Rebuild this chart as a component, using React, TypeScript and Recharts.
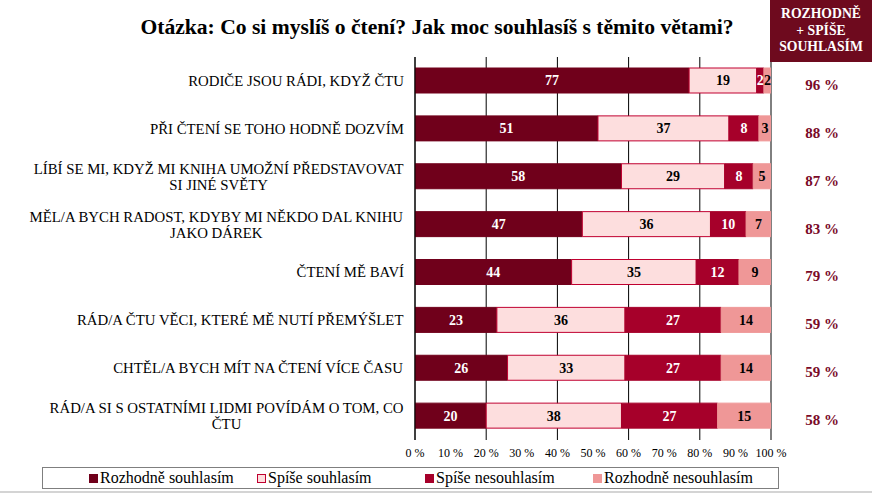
import React from 'react';
import { BarChart, Bar, XAxis, YAxis, CartesianGrid, LabelList } from 'recharts';

const categories = [
  'RODIČE JSOU RÁDI, KDYŽ ČTU',
  'PŘI ČTENÍ SE TOHO HODNĚ DOZVÍM',
  'LÍBÍ SE MI, KDYŽ MI KNIHA UMOŽNÍ PŘEDSTAVOVAT\nSI JINÉ SVĚTY',
  'MĚL/A BYCH RADOST, KDYBY MI NĚKDO DAL KNIHU\nJAKO DÁREK',
  'ČTENÍ MĚ BAVÍ',
  'RÁD/A ČTU VĚCI, KTERÉ MĚ NUTÍ PŘEMÝŠLET',
  'CHTĚL/A BYCH MÍT NA ČTENÍ VÍCE ČASU',
  'RÁD/A SI S OSTATNÍMI LIDMI POVÍDÁM O TOM, CO\nČTU',
];

const rozhodneSouhlasim = [77, 51.4, 58, 47, 44, 23, 26, 20];
const spiseSouhlasim = [19, 36.8, 29, 36, 35, 36, 33, 38];
const spiseNesouhlasim = [2, 8.4, 8, 10, 12, 27, 27, 27];
const rozhodneNesouhlasim = [2, 3.4, 5, 7, 9, 14, 14, 15];

const xTicks = [0, 10, 20, 30, 40, 50, 60, 70, 80, 90, 100];

const title = 'Otázka: Co si myslíš o čtení? Jak moc souhlasíš s těmito větami?';
const headerLines = ['ROZHODNĚ', '+ SPÍŠE', 'SOUHLASÍM'];

const SERIF = '"Liberation Serif", "Times New Roman", serif';
const MAROON = '#6E0A1E';

const series = [
  { key: 'rs', name: 'Rozhodně souhlasím', fill: '#70001B', stroke: '#70001B', label: '#ffffff' },
  { key: 'ss', name: 'Spíše souhlasím', fill: '#FDDEDE', stroke: '#C00030', label: '#000000' },
  { key: 'sn', name: 'Spíše nesouhlasím', fill: '#A6002A', stroke: '#A6002A', label: '#ffffff' },
  { key: 'rn', name: 'Rozhodně nesouhlasím', fill: '#EF9797', stroke: '#EF9797', label: '#000000' },
];

const data = categories.map((name, i) => ({
  name,
  rs: rozhodneSouhlasim[i],
  ss: spiseSouhlasim[i],
  sn: spiseNesouhlasim[i],
  rn: rozhodneNesouhlasim[i],
}));

const LABEL_SIZE = 14.8;

let ctx: CanvasRenderingContext2D | null = null;
function measure(text: string, font: string) {
  if (!ctx) ctx = document.createElement('canvas').getContext('2d');
  if (!ctx) return text.length * 8;
  ctx.font = font;
  return ctx.measureText(text).width;
}

const LeftTick = (props: any) => {
  const { x, y, payload } = props;
  const lines = String(payload.value).split('\n');
  const font = `${LABEL_SIZE}px ${SERIF}`;
  const maxW = Math.max(...lines.map((l) => measure(l, font)));
  const right = x - 3;
  const cx = right - maxW / 2;
  const lh = 16;
  const startDy = -((lines.length - 1) * lh) / 2;
  return (
    <text x={cx} y={y} textAnchor="middle" dominantBaseline="central" fontFamily={SERIF} fontSize={LABEL_SIZE} fill="#000">
      {lines.map((l, i) => (
        <tspan key={i} x={cx} dy={i === 0 ? startDy : lh}>
          {l}
        </tspan>
      ))}
    </text>
  );
};

const RightTick = (props: any) => {
  const { x, y, payload } = props;
  const row = data.find((d) => d.name === payload.value);
  const total = row ? Math.round(row.rs + row.ss) : 0;
  return (
    <text x={x + 43} y={y + 4} textAnchor="middle" dominantBaseline="central" fontFamily={SERIF} fontSize={15} fontWeight="bold" fill="#7A0A28">
      {`${total} %`}
    </text>
  );
};

export default function App() {
  return (
    <div style={{ position: 'absolute', left: 0, top: 0, width: 872, height: 493, background: '#fff', overflow: 'hidden', fontFamily: SERIF }}>
      <BarChart
        width={872}
        height={493}
        data={data}
        layout="vertical"
        margin={{ top: 57, right: 0, bottom: 0, left: 0 }}
        barSize={25}
      >
        <CartesianGrid horizontal={false} vertical={true} stroke="#000" strokeWidth={1} />
        <XAxis
          type="number"
          domain={[0, 100]}
          ticks={xTicks}
          allowDataOverflow
          tickFormatter={(v) => `${v} %`}
          axisLine={false}
          tickLine={false}
          height={53}
          tick={{ fontFamily: SERIF, fontSize: 12, fill: '#000' }}
        />
        <YAxis
          yAxisId="left"
          type="category"
          dataKey="name"
          width={415}
          axisLine={{ stroke: '#000' }}
          tickLine={false}
          tick={<LeftTick />}
          interval={0}
        />
        <YAxis
          yAxisId="right"
          orientation="right"
          type="category"
          dataKey="name"
          width={101}
          axisLine={false}
          tickLine={false}
          tick={<RightTick />}
          interval={0}
        />
        {series.map((s) => (
          <Bar
            key={s.key}
            yAxisId="left"
            dataKey={s.key}
            name={s.name}
            stackId="a"
            fill={s.fill}
            stroke={s.stroke}
            strokeWidth={1}
            isAnimationActive={false}
          >
            <LabelList
              dataKey={s.key}
              position="center"
              formatter={(v: any) => Math.round(Number(v))}
              fill={s.label}
              style={{ fontFamily: SERIF, fontSize: 14, fontWeight: 'bold', fill: s.label }}
            />
          </Bar>
        ))}
      </BarChart>

      <div
        style={{
          position: 'absolute',
          left: 0,
          top: 14,
          width: 874,
          textAlign: 'center',
          fontFamily: SERIF,
          fontWeight: 'bold',
          fontSize: 21.6,
          lineHeight: '26px',
          color: '#000',
        }}
      >
        {title}
      </div>

      <div
        style={{
          position: 'absolute',
          left: 770,
          top: 0,
          width: 102,
          height: 62,
          background: MAROON,
          color: '#fff',
          fontFamily: SERIF,
          fontWeight: 'bold',
          fontSize: 13.7,
          lineHeight: '16.5px',
          textAlign: 'center',
          paddingTop: 6,
          boxSizing: 'border-box',
        }}
      >
        {headerLines.map((l, i) => (
          <div key={i}>{l}</div>
        ))}
      </div>

      <div
        style={{
          position: 'absolute',
          left: 42,
          top: 467,
          width: 737,
          height: 22,
          border: '1px solid #7f7f7f',
          boxSizing: 'border-box',
          display: 'flex',
          alignItems: 'center',
          paddingLeft: 46,
        }}
      >
        {series.map((s) => (
          <div key={s.key} style={{ width: 168, display: 'flex', alignItems: 'center', fontFamily: SERIF, fontSize: 16, color: '#000' }}>
            <span
              style={{
                display: 'inline-block',
                width: 9,
                height: 9,
                background: s.fill,
                border: s.key === 'ss' ? `1px solid ${s.stroke}` : 'none',
                boxSizing: 'border-box',
                marginRight: 2,
              }}
            />
            <span style={{ whiteSpace: 'nowrap' }}>{s.name}</span>
          </div>
        ))}
      </div>

      <div style={{ position: 'absolute', left: 0, top: 491, width: 872, height: 2, background: '#d4d4d4' }} />
    </div>
  );
}
